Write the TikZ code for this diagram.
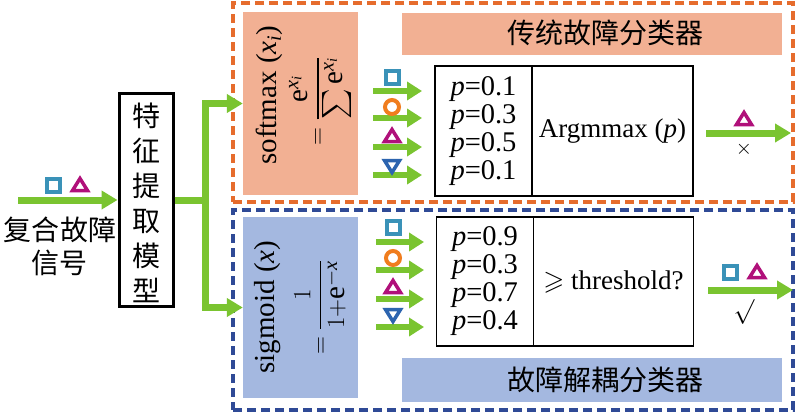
\documentclass[tikz,border=0pt]{standalone}
\usepackage{amsmath,amssymb}
\usepackage{fontspec}
\setmainfont{Liberation Serif}
\newfontfamily\cjk{Noto Sans CJK SC}
\usetikzlibrary{arrows.meta}
\definecolor{orD}{RGB}{230,108,45}
\definecolor{blD}{RGB}{47,74,150}
\definecolor{salm}{RGB}{242,176,147}
\definecolor{lblu}{RGB}{164,184,224}
\definecolor{gr}{RGB}{122,196,48}
\definecolor{sqc}{RGB}{58,146,184}
\definecolor{trc}{RGB}{176,16,122}
\definecolor{cic}{RGB}{240,125,30}
\definecolor{ivc}{RGB}{44,100,175}
\tikzset{
  frame/.style={line width=3.5pt, dash pattern=on 9pt off 5pt, inner sep=0pt},
  fillbox/.style={inner sep=0pt},
  cell/.style={draw=black, line width=1.8pt, inner sep=0pt, align=center,
    font=\fontsize{27}{28}\selectfont},
  pcell/.style={cell, font=\fontsize{28.5}{28}\selectfont},
  gline/.style={draw=gr, line width=7pt},
  garrow/.style={draw=gr, line width=7pt, -{Triangle[length=16pt,width=18pt]}},
  sarrow/.style={draw=gr, line width=6.5pt, -{Triangle[length=15pt,width=18pt]}},
  cjktxt/.style={font=\cjk\fontsize{28}{35}\selectfont, align=center, inner sep=0pt},
  rtxt/.style={rotate=90, font=\fontsize{29}{30}\selectfont, inner sep=0pt},
  sqp/.pic={\draw[sqc, line width=4pt] (-6.5,-6.5) rectangle (6.5,6.5);},
  circp/.pic={\draw[cic, line width=4pt] (0,0) circle (7);},
  trip/.pic={\draw[trc, line width=3.5pt, line join=miter] (-7.5,5.5) -- (7.5,5.5) -- (0,-6.5) -- cycle;},
  invp/.pic={\draw[ivc, line width=3.5pt, line join=miter] (-7.5,-5.5) -- (7.5,-5.5) -- (0,6.5) -- cycle;}
}
\begin{document}
\begin{tikzpicture}[x=1pt,y=-1pt]
\useasboundingbox[fill=white] (0,0) rectangle (800,413);

% frames
\node[frame, draw=orD, minimum width=560, minimum height=199] (ofr) at (513,102.5) {};
\node[frame, draw=blD, minimum width=560, minimum height=200] (bfr) at (513,310) {};

% coloured boxes
\node[fillbox, fill=salm, minimum width=115, minimum height=183] (soft) at (300.5,103.5) {};
\node[fillbox, fill=lblu, minimum width=115, minimum height=181] (sig) at (300.5,307.5) {};
\node[fillbox, fill=salm, minimum width=380, minimum height=42] (t1) at (592,34) {};
\node[fillbox, fill=lblu, minimum width=380, minimum height=44] (t2) at (592,380) {};
\node[cjktxt] (t1txt) at (605,33) {传统故障分类器};
\node[cjktxt] (t2txt) at (605,380) {故障解耦分类器};

% rotated formulas
\node[rtxt] (st1) at (269,95) {softmax ($\mathit{x}_{\mathit{i}}$)};
\node[rtxt] (st2) at (320,101) {$=\dfrac{\mathrm{e}^{\mathit{x}_{\mathit{i}}}}{\textstyle\sum \mathrm{e}^{\mathit{x}_{\mathit{i}}}}$};
\node[rtxt] (sg1) at (268,307) {sigmoid ($\mathit{x}$)};
\node[rtxt] (sg2) at (320,307) {$=\dfrac{1}{1{+}\mathrm{e}^{-\mathit{x}}}$};

% feature box
\node[draw=black, line width=3pt, minimum width=54, minimum height=213, inner sep=0pt] (feat) at (146,199.5) {};
\node[cjktxt] (feattxt) at (146,202.5) {特\\征\\提\\取\\模\\型};

% input
\node[cjktxt, font=\cjk\fontsize{28}{33}\selectfont] (intxt) at (60,246) {复合故障\\信号};
\pic at (53.5,185) {sqp};
\pic at (80,185) {trip};
\coordinate (in) at (18,200);
\draw[garrow] (in) -- (feat.west |- in);

% branches
\coordinate (br) at (205,200);
\draw[gline] (feat.east |- br) -- (br);
\draw[garrow] (br) |- (soft.west);
\draw[garrow] (br) |- (sig.west);

% tables
\node[pcell, minimum width=97, minimum height=130] (tp) at (483.5,131)
  {\itshape p\upshape=0.1\\\itshape p\upshape=0.3\\\itshape p\upshape=0.5\\\itshape p\upshape=0.1};
\node[cell, minimum width=161, minimum height=130] (ta) at (612.5,131) {Argmmax (\textit{p})};
\node[pcell, minimum width=97, minimum height=129] (bp) at (485,281.5)
  {\itshape p\upshape=0.9\\\itshape p\upshape=0.3\\\itshape p\upshape=0.7\\\itshape p\upshape=0.4};
\node[cell, minimum width=160, minimum height=129] (ba) at (613.5,281.5) {$\geqslant$ threshold?};

% small input arrows (top)
\foreach \yy/\nm in {91/a1,118/a2,147/a3,175/a4}{
  \coordinate (s\nm) at (373,\yy);
  \coordinate (e\nm) at (422,\yy);
  \draw[sarrow] (s\nm) -- (e\nm);
}
\pic at (392,77) {sqp};
\pic at (392,107) {circp};
\pic at (392,136) {trip};
\pic at (392,166) {invp};

% small input arrows (bottom)
\foreach \yy/\nm in {242/b1,270/b2,299/b3,327/b4}{
  \coordinate (s\nm) at (376,\yy);
  \coordinate (e\nm) at (424,\yy);
  \draw[sarrow] (s\nm) -- (e\nm);
}
\pic at (393,227) {sqp};
\pic at (393,258) {circp};
\pic at (393,287) {trip};
\pic at (393,315) {invp};

% outputs
\coordinate (o1s) at (706,133);
\coordinate (o1e) at (791,133);
\draw[garrow] (o1s) -- (o1e);
\pic at (744,119) {trip};
\node[font=\fontsize{20}{20}\selectfont, inner sep=0pt] (xmark) at (744,149) {$\times$};

\coordinate (o2s) at (708,290);
\coordinate (o2e) at (793,290);
\draw[garrow] (o2s) -- (o2e);
\pic at (730,272) {sqp};
\pic at (757,272) {trip};
\node[font=\fontsize{24}{24}\selectfont, inner sep=0pt] (ok) at (744,312) {$\surd$};
\end{tikzpicture}
\end{document}
